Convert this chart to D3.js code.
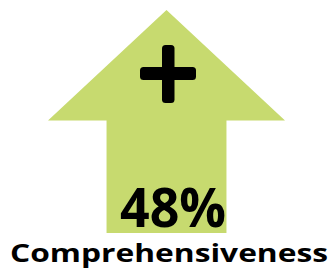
<!DOCTYPE html>
<html>
<head>
<meta charset="utf-8">
<script src="https://cdn.jsdelivr.net/npm/d3@7"></script>
<style>
    html, body { margin: 0; padding: 0; background: #fff; }
    svg { display: block; }
</style>
</head>
<body>
<div id="chart"></div>
<script>
"use strict";
// values
var metrics = ["Comprehensiveness"];
var values = [48];
var symbols = ["+"];

(function () {
    var width = 330, height = 274;
    var svg = d3.select("#chart").append("svg")
        .attr("width", width)
        .attr("height", height);

    // arrow box, unit coords -> pixels
    var x = d3.scaleLinear().domain([0, 1]).range([48, 285]);
    var y = d3.scaleLinear().domain([0, 1]).range([10, 233]);

    var shape = [[0.5, 0], [1, 0.496], [0.753, 0.496], [0.753, 1],
                 [0.247, 1], [0.247, 0.496], [0, 0.496]];
    var line = d3.line().x(function (d) { return x(d[0]); }).y(function (d) { return y(d[1]); });

    svg.append("path")
        .datum(shape)
        .attr("d", function (d) { return line(d) + "Z"; })
        .attr("fill", "#c7da6f");

    // plus sign
    var plus = svg.append("g").attr("class", "sign");
    var cx = 168, cy = 74;
    if (symbols[0] === "+") {
        plus.append("rect")
            .attr("x", cx - 28).attr("y", cy - 7)
            .attr("width", 56).attr("height", 13)
            .attr("rx", 3.5).attr("fill", "#000");
    }
    plus.append("rect")
        .attr("x", cx - 6).attr("y", 45)
        .attr("width", 12.5).attr("height", 58)
        .attr("rx", 3.5).attr("fill", "#000");

    svg.selectAll(".value")
        .data(values)
        .enter().append("text")
        .attr("class", "value")
        .attr("x", 120).attr("y", 227)
        .attr("textLength", 106)
        .attr("lengthAdjust", "spacingAndGlyphs")
        .style("font-family", "'Open Sans', 'Liberation Sans', sans-serif")
        .style("font-weight", 700)
        .style("font-size", "53px")
        .attr("fill", "#000")
        .text(function (d) { return d + "%"; });

    svg.selectAll(".metric")
        .data(metrics)
        .enter().append("text")
        .attr("class", "metric")
        .attr("x", 10).attr("y", 262)
        .attr("textLength", 318)
        .attr("lengthAdjust", "spacingAndGlyphs")
        .style("font-family", "'Open Sans', 'Liberation Sans', sans-serif")
        .style("font-weight", 700)
        .style("font-size", "25px")
        .attr("fill", "#000")
        .text(function (d) { return d; });
}());
</script>
</body>
</html>
